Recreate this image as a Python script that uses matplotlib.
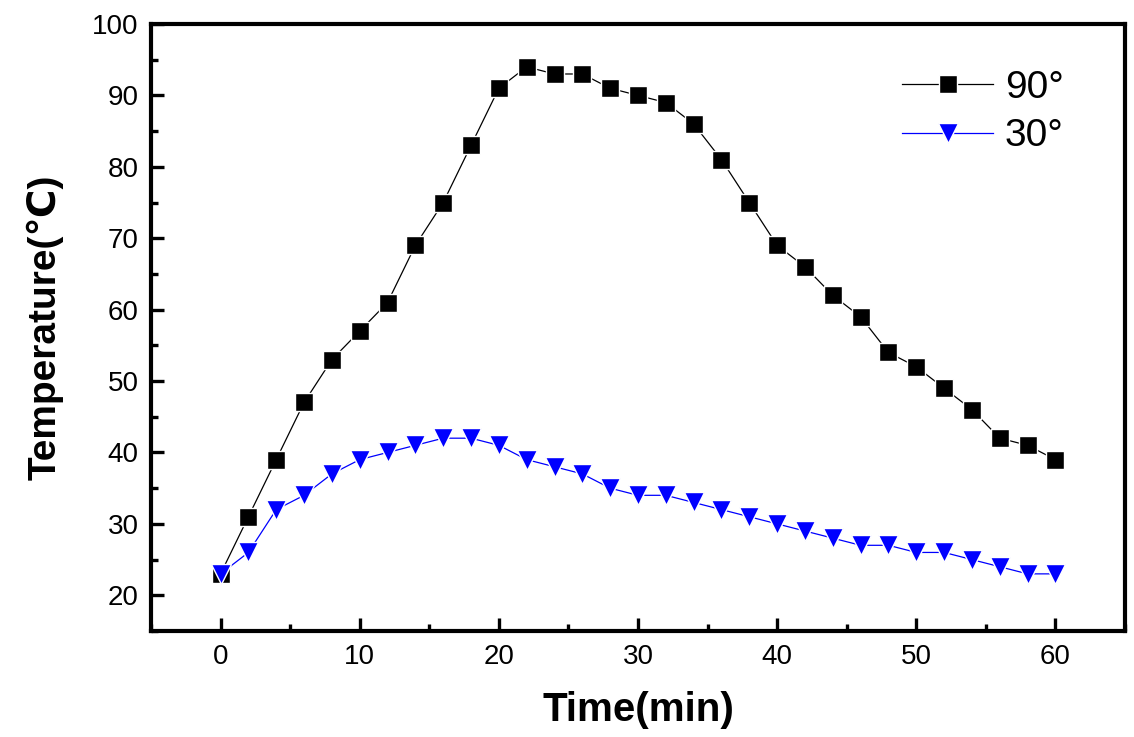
import matplotlib
matplotlib.use("Agg")
import matplotlib.pyplot as plt
from matplotlib.ticker import MultipleLocator, FormatStrFormatter

time_min = [0, 2, 4, 6, 8, 10, 12, 14, 16, 18, 20, 22, 24, 26, 28, 30,
            32, 34, 36, 38, 40, 42, 44, 46, 48, 50, 52, 54, 56, 58, 60]
temp_90 = [23, 31, 39, 47, 53, 57, 61, 69, 75, 83, 91, 94, 93, 93, 91, 90,
           89, 86, 81, 75, 69, 66, 62, 59, 54, 52, 49, 46, 42, 41, 39]
temp_30 = [23, 26, 32, 34, 37, 39, 40, 41, 42, 42, 41, 39, 38, 37, 35, 34,
           34, 33, 32, 31, 30, 29, 28, 27, 27, 26, 26, 25, 24, 23, 23]
labels = ["90°", "30°"]

plt.rcParams['font.family'] = ['Liberation Sans', 'DejaVu Sans']

fig = plt.figure(figsize=(11.34, 7.37), dpi=100)
ax = fig.add_axes([151/1134, 1 - 631/737, (1125 - 151)/1134, (631 - 24)/737])

ax.plot(time_min, temp_90, color='black', lw=0.9, marker='s', ms=13,
        mfc='black', mec='white', mew=1.0, label=labels[0])
ax.plot(time_min, temp_30, color='#0000FF', lw=0.9, marker='v', ms=14.5,
        mfc='#0000FF', mec='white', mew=1.0, label=labels[1])

ax.set_xlim(-5, 65)
ax.set_ylim(15, 100)
ax.xaxis.set_major_locator(MultipleLocator(10))
ax.xaxis.set_minor_locator(MultipleLocator(5))
ax.yaxis.set_major_locator(MultipleLocator(10))
ax.yaxis.set_minor_locator(MultipleLocator(5))
ax.yaxis.set_major_formatter(FormatStrFormatter('%d'))
ax.xaxis.set_major_formatter(FormatStrFormatter('%d'))

for s in ax.spines.values():
    s.set_linewidth(3)
ax.tick_params(which='both', direction='in', top=False, right=False,
               labelsize=20, pad=9)
ax.tick_params(which='major', length=9.5, width=2.4)
ax.tick_params(which='minor', length=5, width=2.4)

ax.set_xlabel("Time(min)", fontweight='bold', fontsize=29, va='center')
ax.xaxis.set_label_coords(0.5, -0.13)
ax.set_ylabel("Temperature(℃)", fontweight='bold', fontsize=28, va='center')
ax.yaxis.set_label_coords(-0.109, 0.5)

leg = ax.legend(loc='upper left', bbox_to_anchor=(0.771, 0.925), frameon=False,
                fontsize=28, borderpad=0, borderaxespad=0, handlelength=2.35,
                handletextpad=0.3, labelspacing=0.33, numpoints=1)

fig.savefig("out.png", dpi=100)
